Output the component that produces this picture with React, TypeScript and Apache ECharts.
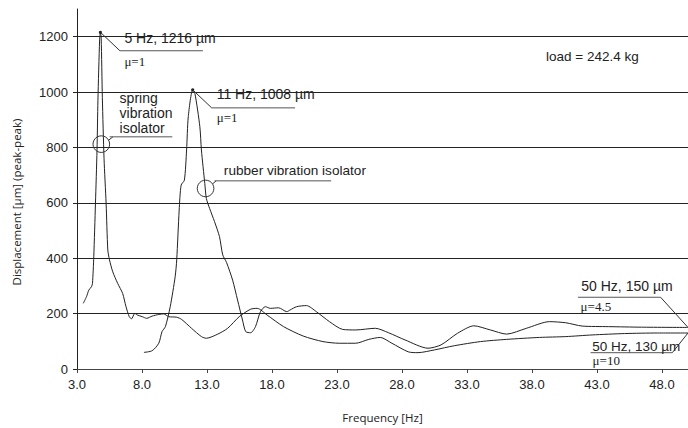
import React, { useEffect, useRef } from "react";
import * as echarts from "echarts";

// Frequency [Hz] and displacement [µm]
const springFreq = [3.48, 3.73, 3.91, 4.11, 4.19, 4.29, 4.42, 4.54, 4.61, 4.74, 4.8, 4.86, 4.95, 5.08, 5.24, 5.37, 5.5, 5.75, 6.13, 6.51, 6.77, 7.02, 7.19, 7.45, 7.64, 8.02, 8.36, 8.78, 9.29, 9.67, 10.05, 10.67, 11.05, 11.81, 12.57, 12.95, 13.83, 14.59, 15.48, 16.36, 16.86, 17.62, 18.89, 20.4, 21.92, 23.17, 24.44, 25.45, 26.33, 27.22, 28.48, 29.23, 30.5, 32.02, 34.04, 36.05, 38.58, 40.6, 42.62, 45.12, 47.67, 50];
const springDisp = [237, 261, 285, 297, 309, 405, 598, 791, 971, 1188, 1216, 1195, 980, 760, 598, 430, 394, 351, 309, 273, 225, 189, 181, 201, 195, 189, 183, 191, 197, 199, 189, 187, 179, 147, 117, 111, 126, 147, 189, 216, 219, 195, 153, 119, 99, 93, 93, 107, 114, 93, 62, 59, 69, 84, 99, 107, 114, 117, 123, 128, 130, 130];

const rubberFreq = [8.15, 8.78, 9.29, 9.54, 9.8, 10.17, 10.55, 10.67, 10.86, 11.01, 11.26, 11.43, 11.56, 11.9, 12.07, 12.45, 12.57, 12.83, 12.95, 13.2, 13.58, 13.96, 14.21, 14.5, 14.97, 15.35, 15.73, 15.98, 16.36, 16.73, 17.11, 17.49, 17.87, 18.51, 19.14, 19.39, 19.89, 20.65, 21.41, 22.42, 23.43, 24.44, 25.95, 26.96, 28.23, 30, 31, 32.27, 33.53, 34.8, 36.05, 37.57, 39.34, 40.6, 41.86, 43.89, 46.41, 50];
const rubberDisp = [60, 66, 93, 135, 153, 225, 333, 394, 574, 664, 682, 791, 911, 1008, 995, 875, 791, 670, 616, 580, 532, 478, 412, 385, 321, 249, 177, 135, 131, 153, 207, 225, 219, 221, 207, 213, 225, 229, 207, 171, 143, 141, 147, 131, 105, 75, 87, 129, 156, 141, 126, 147, 171, 167, 155, 153, 151, 150];

const xTicks = [3, 8, 13, 18, 23, 28, 33, 38, 43, 48];
const yTicks = [0, 200, 400, 600, 800, 1000, 1200];

const X0 = 3; // axis origin (Hz)

const SANS = "'Liberation Sans', Arial, sans-serif";
const SERIF = "'Liberation Serif', 'Times New Roman', serif";
const TITLE = "'Open Sans', sans-serif";
const INK = "#222";

export default function App() {
  const ref = useRef<HTMLDivElement>(null);

  useEffect(() => {
    document.body.style.margin = "0";
    const el = ref.current!;
    const chart = echarts.init(el, null, { renderer: "svg" });

    const lineStyle = { color: INK, width: 1 };
    const option: any = {
      animation: false,
      backgroundColor: "#fff",
      grid: { left: 77, top: 9, right: -9.4, bottom: 59, containLabel: false },
      xAxis: {
        type: "value",
        min: 0,
        max: 47,
        interval: 5,
        name: "Frequency [Hz]",
        nameLocation: "middle",
        nameGap: 42,
        nameTextStyle: { fontFamily: TITLE, fontSize: 11.5, color: INK },
        axisLine: { show: true, lineStyle: { color: "#444", width: 1 } },
        axisTick: { show: true, length: 4, lineStyle: { color: "#444" }, customValues: xTicks.map((t) => t - X0) },
        axisLabel: {
          fontFamily: SANS,
          fontSize: 13,
          color: INK,
          margin: 9,
          customValues: xTicks.map((t) => t - X0),
          formatter: (v: number) => (v + X0).toFixed(1),
        },
        splitLine: { show: false },
      },
      yAxis: {
        type: "value",
        min: 0,
        max: 1300,
        interval: 200,
        name: "Displacement [µm] (peak-peak)",
        nameLocation: "middle",
        nameGap: 55,
        nameTextStyle: { fontFamily: TITLE, fontSize: 11.5, color: INK, padding: [0, 26, 0, 0] },
        axisLine: { show: true, lineStyle: { color: "#222", width: 1 } },
        axisTick: { show: true, length: 4, lineStyle: { color: "#222" }, customValues: yTicks },
        axisLabel: { fontFamily: SANS, fontSize: 13, color: INK, margin: 9, customValues: yTicks, formatter: (v: number) => String(v) },
        splitLine: { show: true, showMinLine: false, lineStyle: { color: "#222", width: 1 } },
      },
      series: [
        {
          name: "spring vibration isolator",
          type: "line",
          data: springFreq.map((f, i) => [f - X0, springDisp[i]]),
          showSymbol: false,
          smooth: 0.25,
          lineStyle,
          z: 3,
        },
        {
          name: "rubber vibration isolator",
          type: "line",
          data: rubberFreq.map((f, i) => [f - X0, rubberDisp[i]]),
          showSymbol: false,
          smooth: 0.25,
          lineStyle,
          z: 3,
        },
      ],
    };
    chart.setOption(option);

    const px = (f: number, v: number) => chart.convertToPixel({ gridIndex: 0 }, [f - X0, v]) as number[];
    const line = (x1: number, y1: number, x2: number, y2: number, stroke = "#333") => ({
      type: "line",
      silent: true,
      shape: { x1, y1, x2, y2 },
      style: { stroke, lineWidth: 1 },
      z: 10,
    });
    const text = (x: number, y: number, t: string, size = 14, family = SANS) => ({
      type: "text",
      silent: true,
      x,
      y,
      style: { text: t, fontFamily: family, fontSize: size, fill: INK, verticalAlign: "middle", align: "left" },
      z: 10,
    });
    const dot = (x: number, y: number) => ({
      type: "circle",
      silent: true,
      shape: { cx: x, cy: y, r: 1.6 },
      style: { fill: INK },
      z: 10,
    });

    const g: any[] = [];
    // Spring peak
    const [p1x, p1y] = px(4.8, 1216);
    g.push(dot(p1x, p1y));
    g.push(line(p1x, p1y, p1x + 19.5, p1y + 18.5));
    g.push(line(p1x + 19.5, p1y + 18.5, p1x + 102.5, p1y + 18.5, "#555"));
    g.push(text(p1x + 24, p1y + 6, "5 Hz, 1216 µm"));
    g.push(text(p1x + 24, p1y + 29, "μ=1", 13, SERIF));
    // Rubber peak
    const [p2x, p2y] = px(11.9, 1008);
    g.push(dot(p2x, p2y));
    g.push(line(p2x, p2y, p2x + 19, p2y + 18));
    g.push(line(p2x + 19, p2y + 18, p2x + 102.4, p2y + 18, "#555"));
    g.push(text(p2x + 24, p2y + 4.5, "11 Hz, 1008 µm"));
    g.push(text(p2x + 24, p2y + 27.5, "μ=1", 13, SERIF));
    // Spring label
    const [c1x, c1y] = px(4.87, 812);
    g.push({ type: "circle", silent: true, shape: { cx: c1x, cy: c1y, r: 8.3 }, style: { fill: "none", stroke: "#333", lineWidth: 1 }, z: 10 });
    g.push(line(c1x + 7.4, c1y - 4, c1x + 11.6, c1y - 7.3));
    g.push(line(c1x + 8.3, c1y - 7.3, c1x + 71, c1y - 7.3, "#555"));
    g.push(text(c1x + 18.3, c1y - 46.3, "spring"));
    g.push(text(c1x + 18.3, c1y - 30.7, "vibration"));
    g.push(text(c1x + 18.3, c1y - 15.7, "isolator"));
    // Rubber label
    const [c2x, c2y] = px(12.89, 652);
    g.push({ type: "circle", silent: true, shape: { cx: c2x, cy: c2y, r: 8.3 }, style: { fill: "none", stroke: "#333", lineWidth: 1 }, z: 10 });
    g.push(line(c2x + 7, c2y - 4.6, c2x + 10.6, c2y - 7.6));
    g.push(line(c2x + 9, c2y - 7.6, c2x + 125.6, c2y - 7.6, "#555"));
    g.push(text(c2x + 18.3, c2y - 18.3, "rubber vibration isolator", 13.6));
    // 50 Hz end points
    const [e1x, e1y] = px(50, 150);
    g.push(line(e1x - 110, e1y - 30.2, e1x - 27.4, e1y - 30.2, "#555"));
    g.push(line(e1x - 27.4, e1y - 30.2, e1x, e1y));
    g.push(text(e1x - 106.7, e1y - 41.5, "50 Hz, 150 µm"));
    g.push(text(e1x - 107.4, e1y - 20.8, "μ=4.5", 13, SERIF));
    const [e2x, e2y] = px(50, 130);
    g.push(line(e2x - 97.4, e2y + 19.7, e2x - 15.7, e2y + 19.7, "#555"));
    g.push(line(e2x - 15.7, e2y + 19.7, e2x, e2y));
    g.push(text(e2x - 95.7, e2y + 13, "50 Hz, 130 µm", 13.5));
    g.push(text(e2x - 95.4, e2y + 27, "μ=10", 13, SERIF));
    // Load note
    g.push(text(546, 56.7, "load = 242.4 kg", 13.5));

    chart.setOption({ graphic: g });

    return () => chart.dispose();
  }, []);

  return <div ref={ref} style={{ width: 688, height: 428 }} />;
}
